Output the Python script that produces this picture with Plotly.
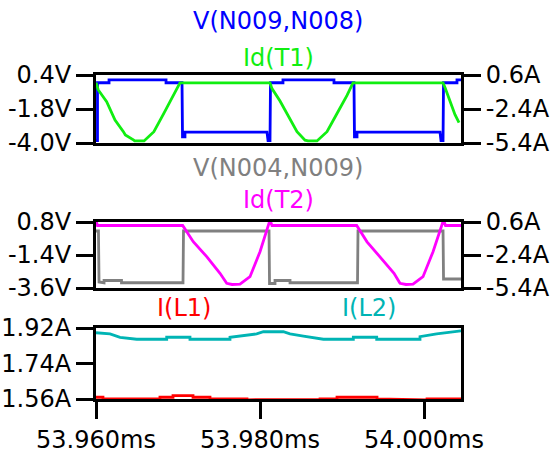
import plotly.graph_objects as go

# Time base: sample times are given in microseconds after 53.960 ms
T0_MS = 53.960

# ---- Pane 1: V(N009,N008) [V] and Id(T1) [A] ----
v98_t = [0, 0.18, 0.18, 1.59, 1.59, 8.54, 8.54, 10.49, 10.55, 10.85, 10.85, 20.85, 20.98,
         21.22, 21.28, 22.80, 22.80, 29.02, 29.02, 31.46, 31.52, 31.83, 31.83, 41.95, 42.07,
         42.32, 42.38, 44.02, 44.02, 44.51]
v98_v = [-3.85, -3.85, -0.10, -0.10, 0.08, 0.08, -0.10, -0.10, -3.60, -3.60, -3.30, -3.30, -3.85,
         -3.85, -0.10, -0.10, 0.08, 0.08, -0.10, -0.10, -3.60, -3.60, -3.30, -3.30, -3.85,
         -3.85, -0.10, -0.10, 0.08, 0.08]

idt1_t = [0, 0.28, 1.30, 2.32, 3.34, 3.58, 4.60, 4.71, 5.86, 7.06, 8.27, 9.49, 10.24, 21.22,
          21.46, 22.44, 23.66, 24.51, 25.49, 25.85, 26.95, 28.17, 29.39, 30.61, 31.34, 42.32,
          42.56, 43.17, 43.78, 44.27]
idt1_i = [-0.08, -0.72, -1.76, -3.37, -4.40, -4.70, -5.14, -5.22, -5.22, -4.40, -2.78, -1.16, -0.10, -0.10,
          -0.60, -1.70, -3.30, -4.40, -5.15, -5.22, -5.22, -4.40, -2.80, -1.20, -0.10, -0.10,
          -0.50, -1.70, -2.90, -3.60]

# ---- Pane 2: V(N004,N009) [V] and Id(T2) [A] ----
v49_t = [0, 0.30, 0.37, 0.98, 0.98, 3.11, 3.11, 10.61, 10.67, 21.10, 21.16, 21.83, 21.83,
         23.66, 23.66, 31.89, 31.95, 42.32, 42.38, 44.51]
v49_v = [0.20, 0.20, -3.20, -3.25, -3.10, -3.10, -3.25, -3.25, 0.20, 0.20, -3.30, -3.30, -3.10,
         -3.10, -3.25, -3.25, 0.20, 0.20, -3.00, -3.00]

idt2_t = [0, 0.18, 10.57, 11.86, 13.50, 15.12, 15.94, 16.59, 17.56, 18.78, 20.00, 20.82, 21.22,
          21.46, 31.79, 33.05, 34.63, 36.34, 37.07, 37.80, 38.66, 39.88, 41.10, 41.95, 42.38,
          42.62, 44.51]
idt2_i = [0.75, 0.28, 0.28, -1.19, -2.55, -4.06, -4.97, -5.08, -5.04, -4.37, -2.10, -0.28, 0.78,
          0.28, 0.28, -1.20, -2.55, -4.06, -4.97, -5.08, -5.04, -4.37, -2.10, -0.28, 0.78,
          0.28, 0.28]

# ---- Pane 3: I(L1) and I(L2) [A] ----
il1_t = [0, 0.85, 0.85, 7.80, 7.80, 9.39, 9.39, 11.83, 11.83, 13.90, 13.90, 18.41, 18.41,
         23.54, 23.54, 27.32, 27.32, 29.39, 29.39, 34.27, 34.27, 36.71, 36.71, 40.37, 40.37, 44.51]
il1_i = [1.569, 1.569, 1.560, 1.560, 1.569, 1.569, 1.577, 1.577, 1.569, 1.569, 1.560, 1.560, 1.556,
         1.556, 1.558, 1.558, 1.560, 1.560, 1.569, 1.569, 1.560, 1.560, 1.556, 1.556, 1.560, 1.560]

il2_t = [0, 1.71, 2.93, 4.96, 8.62, 8.62, 11.46, 11.46, 16.34, 16.34, 19.59, 20.41, 22.85,
         23.66, 25.29, 27.73, 31.38, 31.38, 34.23, 34.23, 39.51, 39.51, 41.54, 43.98, 44.51]
il2_i = [1.896, 1.890, 1.873, 1.863, 1.863, 1.873, 1.873, 1.863, 1.863, 1.873, 1.890, 1.901, 1.901,
         1.890, 1.879, 1.863, 1.863, 1.873, 1.873, 1.863, 1.863, 1.876, 1.890, 1.901, 1.905]

# Axis ticks
x_ticks = [53.960, 53.980, 54.000]
x_tick_text = ["53.960ms", "53.980ms", "54.000ms"]
p1_v_ticks = [0.4, -1.8, -4.0]
p1_v_text = ["0.4V", "-1.8V", "-4.0V"]
p2_v_ticks = [0.8, -1.4, -3.6]
p2_v_text = ["0.8V", "-1.4V", "-3.6V"]
i_ticks = [0.6, -2.4, -5.4]
i_text = ["0.6A", "-2.4A", "-5.4A"]
p3_ticks = [1.92, 1.74, 1.56]
p3_text = ["1.92A", "1.74A", "1.56A"]


def ms(ts):
    return [T0_MS + t / 1000.0 for t in ts]


W, H = 552, 453
FONT = "DejaVu Sans"
FS = 24
LW = 2.8
BW = 3

fig = go.Figure()
fig.add_trace(go.Scatter(x=ms(v98_t), y=v98_v, mode="lines", line=dict(color="#0000FF", width=LW),
                         xaxis="x", yaxis="y"))
fig.add_trace(go.Scatter(x=ms(idt1_t), y=idt1_i, mode="lines", line=dict(color="#11EE11", width=LW),
                         xaxis="x", yaxis="y2"))
fig.add_trace(go.Scatter(x=ms(v49_t), y=v49_v, mode="lines", line=dict(color="#808080", width=LW),
                         xaxis="x2", yaxis="y3"))
fig.add_trace(go.Scatter(x=ms(idt2_t), y=idt2_i, mode="lines", line=dict(color="#FF00FF", width=LW),
                         xaxis="x2", yaxis="y4"))
fig.add_trace(go.Scatter(x=ms(il2_t), y=il2_i, mode="lines", line=dict(color="#00B4B4", width=LW),
                         xaxis="x3", yaxis="y5"))
fig.add_trace(go.Scatter(x=ms(il1_t), y=il1_i, mode="lines", line=dict(color="#FF0000", width=LW),
                         xaxis="x3", yaxis="y5"))


def px_dom(top, bottom):
    return [1 - bottom / H, 1 - top / H]


xdom = [96 / W, 461 / W]
xr = [T0_MS, T0_MS + 44.51 / 1000.0]
tickfont = dict(family=FONT, size=FS, color="#000000")

common_x = dict(domain=xdom, range=xr, showgrid=False, zeroline=False, showline=True,
                linecolor="black", linewidth=BW, mirror=True, layer="below traces",
                fixedrange=True)
common_y = dict(showgrid=False, zeroline=False, showline=True, linecolor="black",
                linewidth=BW, ticks="outside", ticklen=17, tickwidth=BW, tickcolor="black",
                tickfont=tickfont, layer="below traces", automargin=False)

p1 = px_dom(75, 143)
p2 = px_dom(222, 288)
p3 = px_dom(328, 399)

fig.update_layout(
    width=W, height=H,
    margin=dict(l=0, r=0, t=0, b=0),
    paper_bgcolor="white", plot_bgcolor="white",
    showlegend=False,
    xaxis=dict(common_x, anchor="y", showticklabels=False, ticks=""),
    xaxis2=dict(common_x, anchor="y3", showticklabels=False, ticks="", matches="x"),
    xaxis3=dict(common_x, anchor="y5", matches="x", tickvals=x_ticks, ticktext=x_tick_text,
                ticks="outside", ticklen=17, tickwidth=BW, tickcolor="black", tickfont=tickfont,
                automargin=False),
    yaxis=dict(common_y, domain=p1, anchor="x", range=[-4.0, 0.4], tickvals=p1_v_ticks,
               ticktext=p1_v_text, mirror=True),
    yaxis2=dict(common_y, domain=p1, anchor="x", overlaying="y", side="right",
                range=[-5.4, 0.6], tickvals=i_ticks, ticktext=i_text),
    yaxis3=dict(common_y, domain=p2, anchor="x2", range=[-3.6, 0.8], tickvals=p2_v_ticks,
                ticktext=p2_v_text, mirror=True),
    yaxis4=dict(common_y, domain=p2, anchor="x2", overlaying="y3", side="right",
                range=[-5.4, 0.6], tickvals=i_ticks, ticktext=i_text),
    yaxis5=dict(common_y, domain=p3, anchor="x3", range=[1.56, 1.92], tickvals=p3_ticks,
                ticktext=p3_text, mirror=True),
)


def title(text, color, x_px, y_px):
    fig.add_annotation(text=text, x=x_px / W, y=1 - y_px / H, xref="paper", yref="paper",
                       xanchor="center", yanchor="middle", showarrow=False,
                       font=dict(family=FONT, size=FS, color=color))


title("V(N009,N008)", "#0000FF", 278, 21)
title("Id(T1)", "#11EE11", 278, 58)
title("V(N004,N009)", "#808080", 278, 168)
title("Id(T2)", "#FF00FF", 278, 200)
title("I(L1)", "#FF0000", 184, 308)
title("I(L2)", "#00B4B4", 369, 308)

fig.write_html("out.html", config={"displayModeBar": False})
